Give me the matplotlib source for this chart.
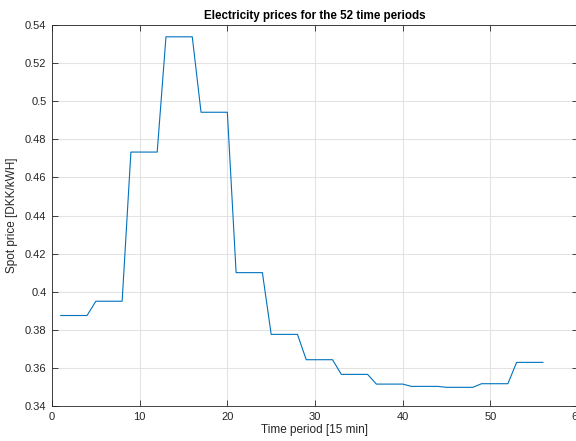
import matplotlib
matplotlib.use("Agg")
import matplotlib.pyplot as plt
import numpy as np

# hourly spot prices, each held for four 15-min periods
hourly_prices = [0.3875, 0.3950, 0.4733, 0.5338, 0.4942, 0.4100, 0.3776,
                 0.3643, 0.3566, 0.3515, 0.3503, 0.3498, 0.3517, 0.3629]
periods = np.arange(1, 4 * len(hourly_prices) + 1)
prices = np.repeat(hourly_prices, 4)

y_ticks = [0.34, 0.36, 0.38, 0.4, 0.42, 0.44, 0.46, 0.48, 0.5, 0.52, 0.54]
y_labels = ["0.34", "0.36", "0.38", "0.4", "0.42", "0.44", "0.46", "0.48", "0.5", "0.52", "0.54"]
x_ticks = [0, 10, 20, 30, 40, 50, 60]

plt.rcParams["font.family"] = ["Liberation Sans", "DejaVu Sans"]
dark = "#262626"

fig = plt.figure(figsize=(5.76, 4.41), dpi=100)
ax = fig.add_axes([52 / 576, 35 / 441, 526 / 576, 381 / 441])

ax.plot(periods, prices, color="#0072BD", linewidth=0.8)

ax.set_xlim(0, 60)
ax.set_ylim(0.34, 0.54)
ax.set_xticks(x_ticks)
ax.set_yticks(y_ticks)
ax.set_yticklabels(y_labels)
ax.grid(True, color="#e3e3e3", linewidth=0.8)
ax.set_axisbelow(True)

ax.tick_params(direction="in", top=True, right=True, length=4, width=0.6,
               labelsize=8, colors=dark, pad=4)
for s in ax.spines.values():
    s.set_color(dark)
    s.set_linewidth(0.6)

ax.set_title("Electricity prices for the 52 time periods", fontsize=8.4,
             fontweight="bold", color="black", pad=4)
ax.set_xlabel("Time period [15 min]", fontsize=8.5, color=dark, labelpad=2)
ax.set_ylabel("Spot price [DKK/kWH]", fontsize=8.5, color=dark, labelpad=5)

fig.savefig("out.png", dpi=100)
